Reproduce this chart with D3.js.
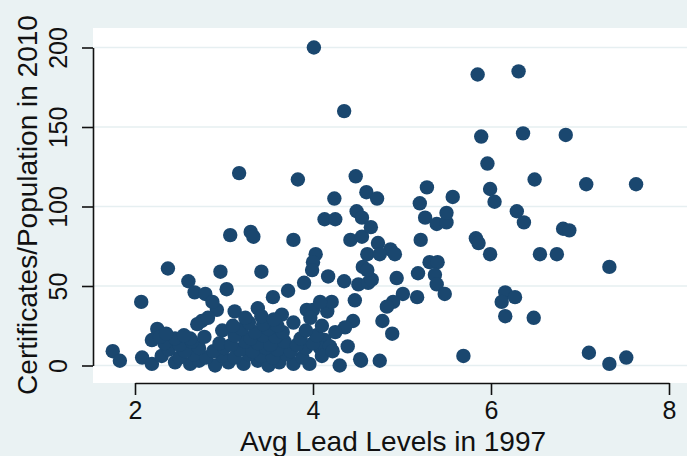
<!DOCTYPE html>
<html>
<head>
<meta charset="utf-8">
<script src="https://cdn.jsdelivr.net/npm/d3@7"></script>
<style>
  body { margin: 0; background: #eaf2f3; }
  svg { display: block; font-family: "Liberation Sans", Arial, sans-serif; }
</style>
</head>
<body>
<svg></svg>
<script>

var screen = {width: 687, height: 456}
var margins = {top: 28, right: -6, bottom: 73, left: 93}

// lead levels 1997 (x)
var leadLevels = [
  4.01, 4.35, 5.85, 6.31, 5.89, 6.36, 6.84, 3.17, 3.83, 4.48, 6.49, 7.07, 7.63, 5.96,
  5.28, 5.99, 6.04, 4.24, 4.6, 4.72, 5.2, 5.57, 4.13, 4.25, 4.49, 4.55, 5.26, 5.39,
  5.5, 5.5, 6.29, 6.37, 6.81, 6.88, 3.07, 3.3, 3.33, 3.78, 4.42, 4.03, 4.55, 4.65,
  4.73, 4.87, 4.92, 5.21, 5.83, 5.86, 5.99, 6.55, 6.74, 7.33, 4.0, 3.99, 3.9, 3.72,
  3.55, 3.38, 3.65, 3.93, 4.0, 4.16, 3.12, 2.92, 2.96, 3.42, 2.37, 2.6, 3.03, 2.67,
  2.79, 2.87, 2.07, 2.25, 2.19, 2.75, 1.75, 1.83, 2.08, 2.19, 3.96, 4.3, 4.54, 4.75,
  4.17, 4.35, 4.51, 4.62, 4.66, 4.56, 4.61, 4.75, 4.94, 5.18, 5.31, 5.4, 5.37, 5.39,
  5.48, 5.17, 5.01, 4.9, 4.83, 4.47, 4.21, 4.78, 4.89, 4.45, 4.36, 4.25, 4.13, 4.08,
  4.19, 4.39, 4.53, 5.69, 6.16, 6.12, 6.27, 6.16, 6.48, 7.1, 7.33, 7.52, 4.61,
  // the crowded part low on the left
  2.45, 2.62, 2.72, 2.9, 3.05, 3.22, 3.38, 3.5, 3.62, 3.78,
  2.3, 2.5, 2.66, 2.8, 2.98, 3.12, 3.28, 3.42, 3.55, 3.7, 3.88, 4.1,
  2.38, 2.56, 2.72, 2.88, 3.0, 3.18, 3.32, 3.47, 3.6, 3.75, 3.92, 4.22,
  2.33, 2.5, 2.64, 2.95, 3.08, 3.24, 3.38, 3.52, 3.68, 3.82, 4.0,
  2.28, 2.45, 2.62, 2.78, 3.12, 3.3, 3.44, 3.58, 3.86, 4.04,
  2.35, 2.55, 2.98, 3.2, 3.35, 3.5, 3.66, 3.92,
  2.7, 3.1, 3.28, 3.44, 3.6, 3.78, 4.1,
  2.82, 3.24, 3.42, 3.56, 3.97, 4.08
]

// certificates / population 2010 (y)
var certificates = [
  200, 160, 183, 185, 144, 146, 145, 121, 117, 119, 117, 114, 114, 127,
  112, 111, 103, 105, 109, 105, 102, 106, 92, 92, 97, 93, 93, 89,
  90, 96, 97, 90, 86, 85, 82, 84, 81, 79, 79, 70, 81, 87,
  77, 73, 70, 79, 80, 77, 70, 70, 70, 62, 65, 60, 52, 47,
  43, 36, 32, 35, 35, 34, 34, 35, 59, 59, 61, 53, 48, 46,
  45, 40, 40, 23, 16, 28, 9, 3, 5, 1, 1, 0, 3, 3,
  56, 53, 51, 52, 54, 62, 70, 70, 55, 58, 65, 65, 57, 51,
  45, 43, 45, 40, 37, 41, 40, 28, 20, 28, 24, 21, 16, 11,
  12, 12, 4, 6, 46, 40, 43, 31, 30, 8, 1, 5, 60,
  2, 1, 3, 0, 2, 1, 3, 0, 2, 1,
  6, 5, 7, 5, 6, 5, 7, 6, 5, 7, 5, 6,
  10, 9, 11, 9, 11, 10, 9, 11, 10, 9, 11, 9,
  14, 13, 15, 14, 13, 15, 14, 13, 15, 13, 14,
  18, 17, 17, 18, 19, 17, 19, 18, 17, 19,
  20, 19, 22, 23, 21, 23, 21, 22,
  26, 25, 27, 26, 25, 27, 25,
  30, 30, 31, 29, 30, 40
]

var xTicks = [2, 4, 6, 8]
var yTicks = [0, 50, 100, 150, 200]

var width = screen.width - margins.left - margins.right
var height = screen.height - margins.top - margins.bottom

var svg = d3.select("svg")
    .attr("width", screen.width)
    .attr("height", screen.height)

svg.append("rect")
    .attr("width", screen.width)
    .attr("height", screen.height)
    .attr("fill", "#eaf2f3")

var xScale = d3.scaleLinear()
    .domain([2, 8])
    .range([135 - margins.left, 669 - margins.left])

var yScale = d3.scaleLinear()
    .domain([0, 200])
    .range([365.5 - margins.top, 47.5 - margins.top])

var graph = svg.append("g")
    .attr("id", "graph")
    .attr("transform", "translate(" + margins.left + "," + margins.top + ")")

graph.append("rect")
    .attr("width", width)
    .attr("height", height)
    .attr("fill", "white")

// grid lines
graph.append("g")
    .selectAll("line")
    .data(yTicks)
    .enter()
    .append("line")
    .attr("x1", 0)
    .attr("x2", width)
    .attr("y1", function(d){return yScale(d)})
    .attr("y2", function(d){return yScale(d)})
    .attr("stroke", "#e6eff1")
    .attr("stroke-width", 1.5)

var points = leadLevels.map(function(x, i){return {x: x, y: certificates[i]}})

graph.append("g")
    .selectAll("circle")
    .data(points)
    .enter()
    .append("circle")
    .attr("cx", function(d){return xScale(d.x)})
    .attr("cy", function(d){return yScale(d.y)})
    .attr("r", 7.2)
    .attr("fill", "#1a476f")

var xAxis = d3.axisBottom(xScale)
    .tickValues(xTicks)
    .tickFormat(d3.format("d"))
    .tickSize(12)
    .tickSizeOuter(0)

var yAxis = d3.axisLeft(yScale)
    .tickValues(yTicks)
    .tickFormat(d3.format("d"))
    .tickSize(11)
    .tickSizeOuter(0)

var gx = graph.append("g")
    .attr("id", "xAxis")
    .attr("transform", "translate(0," + height + ")")
    .call(xAxis)

gx.select(".domain").attr("stroke", "#111").attr("stroke-width", 1.6)
gx.selectAll(".tick line").attr("stroke", "#111").attr("stroke-width", 1.6)
gx.selectAll(".tick text")
    .attr("font-size", 25)
    .attr("fill", "#111")
    .attr("dy", null)
    .attr("y", 36)

var gy = graph.append("g")
    .attr("id", "yAxis")
    .call(yAxis)

gy.select(".domain").attr("stroke", "#111").attr("stroke-width", 1.6)
gy.selectAll(".tick line").attr("stroke", "#111").attr("stroke-width", 1.6)
gy.selectAll(".tick text")
    .attr("font-size", 25)
    .attr("fill", "#111")
    .attr("x", null)
    .attr("dy", null)
    .attr("text-anchor", "middle")
    .attr("transform", "translate(" + (67 - margins.left) + ",0) rotate(-90)")

// axis titles
svg.append("text")
    .attr("x", 393)
    .attr("y", 451)
    .attr("text-anchor", "middle")
    .attr("font-size", 28)
    .attr("fill", "#111")
    .text("Avg Lead Levels in 1997")

svg.append("text")
    .attr("transform", "translate(37," + 205 + ") rotate(-90)")
    .attr("text-anchor", "middle")
    .attr("font-size", 28)
    .attr("fill", "#111")
    .text("Certificates/Population in 2010")

</script>
</body>
</html>
